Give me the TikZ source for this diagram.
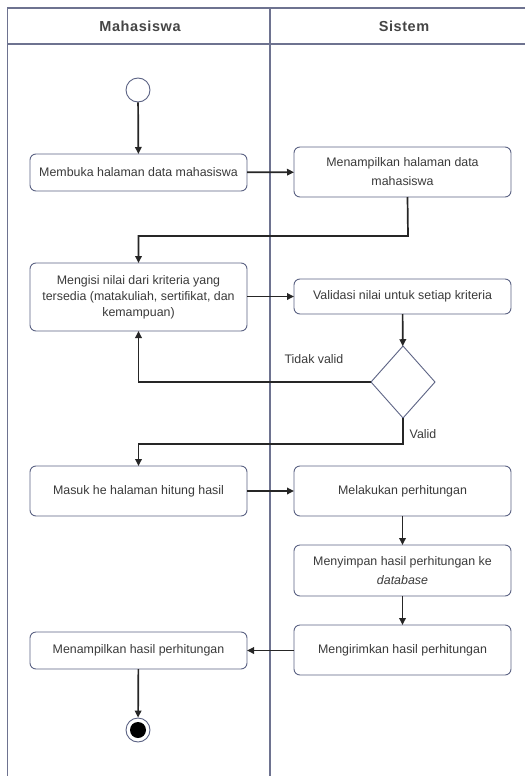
\documentclass[tikz,border=0pt]{standalone}
\usepackage{fontspec}
\setmainfont{Liberation Sans}
\newfontfamily\headfont[LetterSpace=4]{Liberation Sans}
\usetikzlibrary{arrows.meta,shapes.geometric}
\definecolor{framec}{HTML}{6E7390}
\definecolor{boxc}{HTML}{5C6384}
\definecolor{txtc}{HTML}{3A3A3A}
\definecolor{headc}{HTML}{454545}
\tikzset{
  lane/.style={draw=framec, line width=1.1pt},
  lanehead/.style={font=\headfont\bfseries\fontsize{14.5}{16}\selectfont, text=headc},
  act/.style={draw=boxc, line width=0.9pt, rounded corners=6pt, fill=white,
    minimum width=217pt, inner sep=0pt, outer sep=0pt, align=center,
    font=\fontsize{12.4}{16}\selectfont, text=txtc},
  decision/.style={draw=boxc, line width=0.9pt, shape=diamond, fill=white,
    minimum width=64pt, minimum height=72pt, inner sep=0pt, outer sep=0pt},
  flow/.style={draw=black!85, line width=1.7pt,
    -{Triangle[length=7pt,width=6.5pt]}},
  guard/.style={font=\fontsize{12.4}{15}\selectfont, text=txtc},
}
\begin{document}
\begin{tikzpicture}[x=1pt,y=-1pt]
\useasboundingbox (0,0) rectangle (525,776);

% swimlane frame
\draw[lane] (7.5,776) -- (7.5,8) -- (525,8);
\draw[lane] (7.5,44) -- (525,44);
\draw[lane] (270,8) -- (270,776);
\node[lanehead] (hmhs) at (140,26) {Mahasiswa};
\node[lanehead] (hsys) at (404,26) {Sistem};

% start and end
\node[draw=boxc, line width=0.9pt, circle, minimum size=24pt, inner sep=0pt] (start) at (138,90) {};
\node[draw=boxc, line width=0.9pt, circle, minimum size=24pt, inner sep=0pt] (stop) at (138,730) {};
\fill[black] (stop.center) circle (8pt);

% actions
\node[act, minimum height=37pt] (n1) at (138.5,172.5) {Membuka halaman data mahasiswa};
\node[act, minimum height=50pt] (n2) at (402.5,172) {Menampilkan halaman data\\[3pt] mahasiswa};
\node[act, minimum height=68pt] (n3) at (138.5,297) {Mengisi nilai dari kriteria yang\\ tersedia (matakuliah, sertifikat, dan\\ kemampuan)};
\node[act, minimum height=35pt] (n4) at (402.5,296.5) {Validasi nilai untuk setiap kriteria};
\node[decision] (dec) at (403,382) {};
\node[act, minimum height=50pt] (n5) at (138.5,491) {Masuk he halaman hitung hasil};
\node[act, minimum height=50pt] (n6) at (402.5,491) {Melakukan perhitungan};
\node[act, minimum height=51pt] (n7) at (402.5,570.5) {Menyimpan hasil perhitungan ke\\[3pt] \textit{database}};
\node[act, minimum height=50pt] (n8) at (402.5,650) {Mengirimkan hasil perhitungan};
\node[act, minimum height=37pt] (n9) at (138.5,650.5) {Menampilkan hasil perhitungan};

% guards
\node[guard] (gno) at (314,359) {Tidak valid};
\node[guard] (gyes) at (423,434) {Valid};

% bends
\coordinate (j1) at (408,236);
\coordinate (j2) at (403,444);

% control flow
\draw[flow] (start) -- (n1);
\draw[flow] (n1) -- (n2);
\draw[flow] ([xshift=5pt]n2.south) -- (j1) -| (n3.north);
\draw[flow] (n3.east |- n4) -- (n4);
\draw[flow] (n4) -- (dec);
\draw[flow] (dec.west) -| (n3.south);
\draw[flow] (dec.south) -- (j2) -| (n5.north);
\draw[flow] (n5) -- (n6);
\draw[flow] (n6) -- (n7);
\draw[flow] (n7) -- (n8);
\draw[flow] (n8.west |- n9) -- (n9);
\draw[flow] (n9) -- (stop);
\end{tikzpicture}
\end{document}
